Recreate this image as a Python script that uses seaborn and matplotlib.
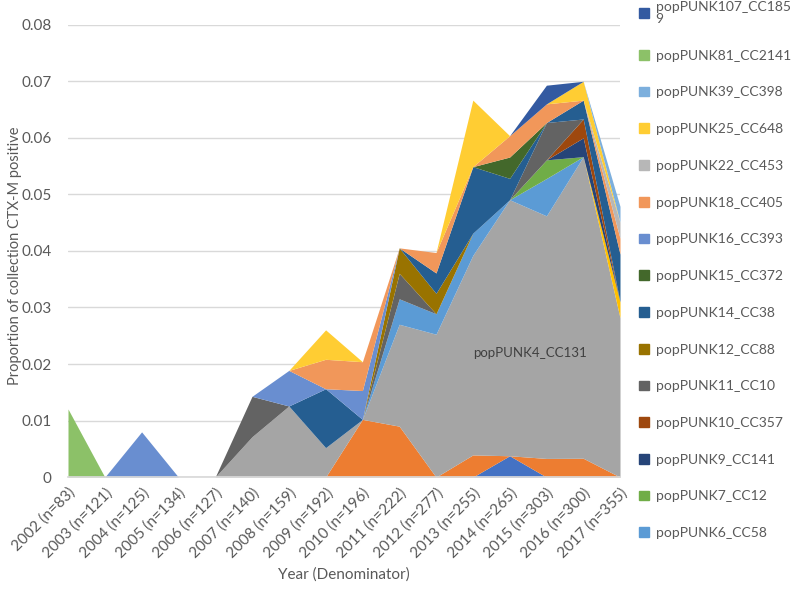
import numpy as np
import pandas as pd
import matplotlib.pyplot as plt
import seaborn as sns
from matplotlib.patches import Patch

# years and denominators (isolates per year)
years = [2002, 2003, 2004, 2005, 2006, 2007, 2008, 2009,
         2010, 2011, 2012, 2013, 2014, 2015, 2016, 2017]
denominators = [83, 121, 125, 134, 127, 140, 159, 192,
                196, 222, 277, 255, 265, 303, 300, 355]

# CTX-M positive counts per cluster, bottom of the stack first
other_a = [0, 0, 0, 0, 0, 0, 0, 0, 0, 0, 0, 0, 1, 0, 0, 0]
other_b = [0, 0, 0, 0, 0, 0, 0, 0, 2, 2, 0, 1, 0, 1, 1, 0]
pp4_cc131 = [0, 0, 0, 0, 0, 1, 2, 1, 0, 4, 7, 9, 12, 13, 16, 10]
other_c = [0, 0, 0, 0, 0, 0, 0, 0, 0, 0, 0, 0, 0, 0, 0, 1]
pp6_cc58 = [0, 0, 0, 0, 0, 0, 0, 0, 0, 1, 1, 1, 0, 2, 0, 0]
pp7_cc12 = [0, 0, 0, 0, 0, 0, 0, 0, 0, 0, 0, 0, 0, 1, 0, 0]
pp9_cc141 = [0, 0, 0, 0, 0, 0, 0, 0, 0, 0, 0, 0, 0, 0, 1, 0]
pp10_cc357 = [0, 0, 0, 0, 0, 0, 0, 0, 0, 0, 0, 0, 0, 0, 1, 0]
pp11_cc10 = [0, 0, 0, 0, 0, 1, 0, 0, 0, 1, 0, 0, 0, 2, 0, 0]
pp12_cc88 = [0, 0, 0, 0, 0, 0, 0, 0, 0, 1, 1, 0, 0, 0, 0, 0]
pp14_cc38 = [0, 0, 0, 0, 0, 0, 0, 2, 0, 0, 1, 3, 1, 0, 1, 3]
pp15_cc372 = [0, 0, 0, 0, 0, 0, 0, 0, 0, 0, 0, 0, 1, 0, 0, 0]
pp16_cc393 = [0, 0, 1, 0, 0, 0, 1, 0, 1, 0, 0, 0, 0, 0, 0, 0]
pp18_cc405 = [0, 0, 0, 0, 0, 0, 0, 1, 1, 0, 1, 0, 1, 1, 0, 1]
pp22_cc453 = [0, 0, 0, 0, 0, 0, 0, 0, 0, 0, 0, 0, 0, 0, 0, 1]
pp25_cc648 = [0, 0, 0, 0, 0, 0, 0, 1, 0, 0, 0, 3, 0, 0, 1, 0]
pp39_cc398 = [0, 0, 0, 0, 0, 0, 0, 0, 0, 0, 0, 0, 0, 0, 0, 1]
pp81_cc2141 = [1, 0, 0, 0, 0, 0, 0, 0, 0, 0, 0, 0, 0, 0, 0, 0]
pp107_cc1859 = [0, 0, 0, 0, 0, 0, 0, 0, 0, 0, 0, 0, 0, 1, 0, 0]

series = [
    ("other_a", other_a, "#4472C4"),
    ("other_b", other_b, "#ED7D31"),
    ("popPUNK4_CC131", pp4_cc131, "#A5A5A5"),
    ("other_c", other_c, "#FFC000"),
    ("popPUNK6_CC58", pp6_cc58, "#5B9BD5"),
    ("popPUNK7_CC12", pp7_cc12, "#70AD47"),
    ("popPUNK9_CC141", pp9_cc141, "#264478"),
    ("popPUNK10_CC357", pp10_cc357, "#9E480E"),
    ("popPUNK11_CC10", pp11_cc10, "#636363"),
    ("popPUNK12_CC88", pp12_cc88, "#997300"),
    ("popPUNK14_CC38", pp14_cc38, "#255E91"),
    ("popPUNK15_CC372", pp15_cc372, "#43682B"),
    ("popPUNK16_CC393", pp16_cc393, "#698ED0"),
    ("popPUNK18_CC405", pp18_cc405, "#F1975A"),
    ("popPUNK22_CC453", pp22_cc453, "#B7B7B7"),
    ("popPUNK25_CC648", pp25_cc648, "#FFCD33"),
    ("popPUNK39_CC398", pp39_cc398, "#7CAFDD"),
    ("popPUNK81_CC2141", pp81_cc2141, "#8CC168"),
    ("popPUNK107_CC1859", pp107_cc1859, "#335AA1"),
]

# proportions of the yearly collection
df = pd.DataFrame({name: np.array(vals) / np.array(denominators) for name, vals, _ in series})
df["label"] = [f"{y} (n={n})" for y, n in zip(years, denominators)]

sns.set_theme(style="white")
plt.rcParams['font.family'] = ['Lato', 'DejaVu Sans']

fig = plt.figure(figsize=(8, 5.89), dpi=100)
ax = fig.add_axes([0.085, 0.19, 0.69, 0.768])

x = np.arange(len(years))
ax.stackplot(x, [df[name] for name, _, _ in series],
             colors=[c for _, _, c in series], linewidth=0, zorder=2)

ax.set_xlim(0, len(years) - 1)
ax.set_ylim(0, 0.08)
ticks = np.round(np.arange(0, 0.081, 0.01), 2)
ax.set_yticks(ticks)
ax.set_yticklabels([f"{v:g}" for v in ticks])
ax.yaxis.grid(True, color="#D9D9D9", linewidth=1, zorder=0)
ax.set_axisbelow(True)
ax.set_xticks(x)
ax.set_xticklabels(df["label"], rotation=45, ha="right", rotation_mode="anchor")
ax.tick_params(axis="both", colors="#595959", labelsize=11, length=0)
ax.tick_params(axis="y", pad=12)
ax.tick_params(axis="x", pad=6)
sns.despine(ax=ax, left=True)
ax.spines["bottom"].set_color("#D9D9D9")

ax.set_xlabel("Year (Denominator)", color="#595959", fontsize=11, labelpad=5)
ax.set_ylabel("Proportion of collection CTX-M positive", color="#595959", fontsize=10.5)
ax.yaxis.set_label_coords(-0.083, 0.49)

ax.text(12.55, 0.022, "popPUNK4_CC131", color="#404040", fontsize=9.5,
        ha="center", va="center", zorder=3)

# legend (only the visible part of the Excel legend)
handles = []
for name, _, col in series[::-1][:15]:
    lab = "popPUNK107_CC185\n9" if name == "popPUNK107_CC1859" else name
    handles.append(Patch(facecolor=col, edgecolor=col, label=lab))
leg = fig.legend(handles=handles, loc="upper left", bbox_to_anchor=(0.79, 1.01),
                 frameon=False, handlelength=0.7, handleheight=0.7, handletextpad=0.5,
                 labelspacing=1.78, fontsize=10, borderpad=0, labelcolor="#595959")
leg.get_texts()[0].set_linespacing(1.0)

plt.savefig("out.png", dpi=100)
